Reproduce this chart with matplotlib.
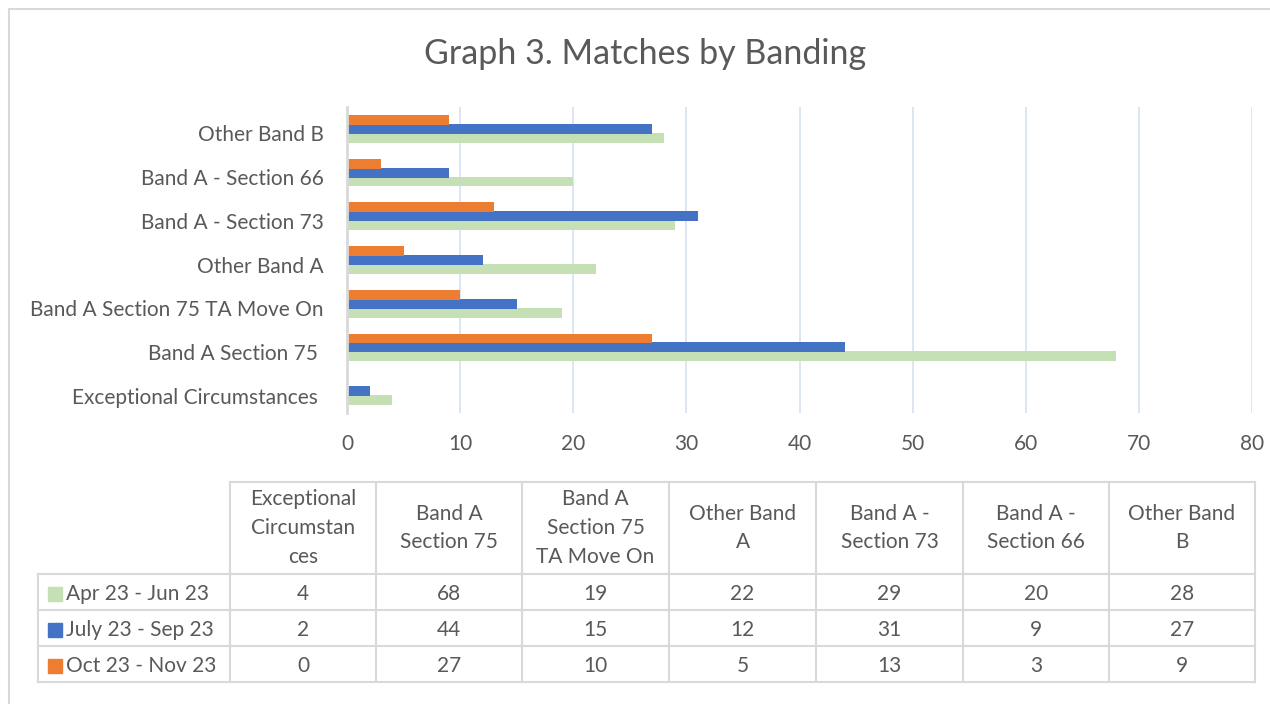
import matplotlib
matplotlib.use("Agg")
import matplotlib.pyplot as plt
import matplotlib.transforms as mtransforms
import numpy as np
from matplotlib.patches import Rectangle

plt.rcParams['font.family'] = ['Lato', 'DejaVu Sans']

# ---- data ----
categories = ["Exceptional Circumstances ", "Band A Section 75 ", "Band A Section 75 TA Move On",
              "Other Band A", "Band A - Section 73", "Band A - Section 66", "Other Band B"]
table_headers = ["Exceptional\nCircumstan\nces", "Band A\nSection 75", "Band A\nSection 75\nTA Move On",
                 "Other Band\nA", "Band A -\nSection 73", "Band A -\nSection 66", "Other Band\nB"]
series_names = ["Apr 23 - Jun 23", "July 23 - Sep 23", "Oct 23 - Nov 23"]
apr_jun = [4, 68, 19, 22, 29, 20, 28]
jul_sep = [2, 44, 15, 12, 31, 9, 27]
oct_nov = [0, 27, 10, 5, 13, 3, 9]
x_ticks = [0, 10, 20, 30, 40, 50, 60, 70, 80]
title = "Graph 3. Matches by Banding"

colors = ["#C5E0B4", "#4472C4", "#ED7D31"]
txt = "#595959"
grid_c = "#DCE4F2"
line_c = "#D9D9D9"
FS = 15

W, H = 1270, 704
fig = plt.figure(figsize=(W / 100, H / 100), dpi=100)

# overlay axes in pixel coordinates for border and table
ov = fig.add_axes([0, 0, 1, 1], zorder=0)
ov.set_xlim(0, W)
ov.set_ylim(H, 0)
ov.axis("off")
ov.patch.set_alpha(0)

# chart border (top and left visible)
ov.plot([8, W], [8.5, 8.5], color=line_c, lw=1.5, solid_capstyle="butt")
ov.plot([8.5, 8.5], [8, H], color=line_c, lw=1.5, solid_capstyle="butt")

# title
ov.text(645, 54, title, ha="center", va="center", fontsize=24.5, color=txt)

# main axes
x0, x1, yt, yb = 347, 1252, 107, 413
ax = fig.add_axes([x0 / W, 1 - yb / H, (x1 - x0) / W, (yb - yt) / H], zorder=1)
ax.patch.set_alpha(0)
y = np.arange(len(categories))
bh = 0.227
off = 0.205
for vals, c, o in zip([apr_jun, jul_sep, oct_nov], colors, [-off, 0, off]):
    ax.barh(y + o, vals, height=bh, color=c, zorder=3)
ax.set_xlim(0, 80)
ax.set_ylim(-0.5, len(categories) - 0.5)
ax.set_xticks(x_ticks)
ax.set_xticklabels([str(t) for t in x_ticks], fontsize=FS, color=txt)
ax.set_yticks(y)
ax.set_yticklabels(categories, fontsize=FS, color=txt)
ax.tick_params(axis="both", length=0)
ax.tick_params(axis="x", pad=15)
ax.tick_params(axis="y", pad=17)
shift = mtransforms.ScaledTranslation(0, -4.5 / 100, fig.dpi_scale_trans)
for lab in ax.get_yticklabels():
    lab.set_transform(lab.get_transform() + shift)
ax.grid(axis="x", color=grid_c, lw=1.3, zorder=0)
for s in ["top", "right", "bottom"]:
    ax.spines[s].set_visible(False)
ax.spines["left"].set_color(line_c)
ax.spines["left"].set_linewidth(2)
ax.spines["left"].set_zorder(4)

# data table
col_edges = [230, 376, 522, 669, 816, 963, 1109, 1255]
leg_left = 38
row_edges = [482, 574, 610, 646, 682]
lw_t = 1.5
ov.plot([col_edges[0], col_edges[-1]], [row_edges[0], row_edges[0]], color=line_c, lw=lw_t)
for xe in col_edges:
    ov.plot([xe, xe], [row_edges[0], row_edges[-1]], color=line_c, lw=lw_t)
for ye in row_edges[1:]:
    ov.plot([leg_left, col_edges[-1]], [ye, ye], color=line_c, lw=lw_t)
ov.plot([leg_left, leg_left], [row_edges[1], row_edges[-1]], color=line_c, lw=lw_t)

for i, hdr in enumerate(table_headers):
    cx = (col_edges[i] + col_edges[i + 1]) / 2
    cy = (row_edges[0] + row_edges[1]) / 2
    ov.text(cx, cy, hdr, ha="center", va="center", fontsize=FS, color=txt, linespacing=1.55)

for r, (name, vals, c) in enumerate(zip(series_names, [apr_jun, jul_sep, oct_nov], colors)):
    cy = (row_edges[r + 1] + row_edges[r + 2]) / 2 + 1.5
    ov.add_patch(Rectangle((48, cy - 7), 14, 14, color=c))
    ov.text(66, cy, name, ha="left", va="center", fontsize=FS, color=txt)
    for i, v in enumerate(vals):
        cx = (col_edges[i] + col_edges[i + 1]) / 2
        ov.text(cx, cy, str(v), ha="center", va="center", fontsize=FS, color=txt)

fig.savefig("out.png", dpi=100)
